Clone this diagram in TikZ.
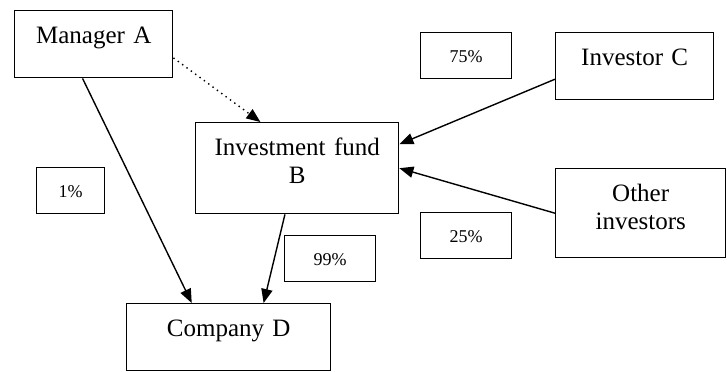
\documentclass[tikz,border=0pt]{standalone}
\usepackage{fontspec}
\setmainfont{Liberation Serif}
\usetikzlibrary{arrows.meta,calc}

\begin{document}
\begin{tikzpicture}[x=0.5pt,y=-0.5pt,>={Triangle[length=7pt,width=5.6pt]},
  box/.style={draw,line width=0.7pt,anchor=north west,inner sep=0pt,align=center,
    font=\fontsize{12.5}{14}\selectfont,text height=16.5pt},
  share/.style={box,font=\fontsize{9}{11}\selectfont,text height=15pt,text depth=8pt},
  link/.style={line width=0.7pt,->}]
  \useasboundingbox (0,0) rectangle (727,371);
  % parties
  \node[box,text width=79pt,text depth=17pt]    (mgr)   at (14,10)   {Manager A};
  \node[box,text width=101.5pt,text depth=29pt] (fund)  at (195,122) {Investment fund\\B};
  \node[box,text width=79pt,text depth=17pt]    (invC)  at (555,32)  {Investor C};
  \node[box,text width=85pt,text depth=28pt]    (other) at (555,168) {Other\\investors};
  \node[box,text width=102pt,text depth=17pt]   (comp)  at (126,303) {Company D};
  % shares
  \node[share,text width=34pt]   (pA)  at (36,167)  {1\%};
  \node[share,text width=45.5pt] (pC)  at (420,32)  {75\%};
  \node[share,text width=45.5pt] (pO)  at (420,212) {25\%};
  \node[share,text width=45.5pt] (pB)  at (284,235) {99\%};
  % holdings
  \draw[link,dotted] ($(mgr.north east)!0.7!(mgr.south east)$) -- ($(fund.north west)!0.32!(fund.north east)$);
  \draw[link] ($(mgr.south west)!0.43!(mgr.south east)$) -- ($(comp.north west)!0.32!(comp.north east)$);
  \draw[link] ($(fund.south west)!0.44!(fund.south east)$) -- ($(comp.north west)!0.67!(comp.north east)$);
  \draw[link] ($(invC.north west)!0.69!(invC.south west)$) -- ($(fund.north east)!0.24!(fund.south east)$);
  \draw[link] (other.west) -- (fund.east);
\end{tikzpicture}
\end{document}
